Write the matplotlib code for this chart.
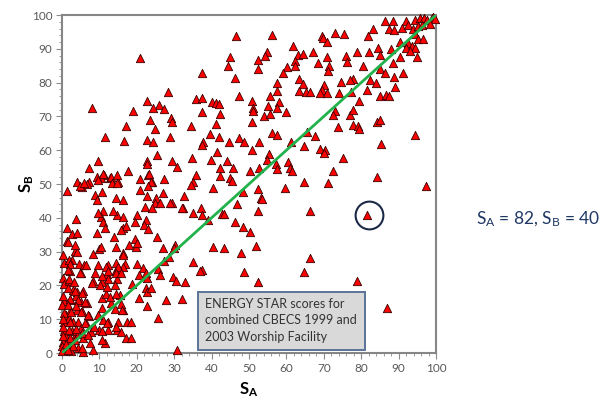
import matplotlib
matplotlib.use("Agg")
import matplotlib.pyplot as plt
from matplotlib.patches import Rectangle
from matplotlib.ticker import MultipleLocator

plt.rcParams['font.family'] = ['Lato', 'DejaVu Sans']
plt.rcParams['mathtext.fontset'] = 'custom'
plt.rcParams['mathtext.rm'] = 'Lato'
plt.rcParams['mathtext.bf'] = 'Lato:bold'

# scores: S_A on x, S_B on y
pts = [
    # upper left part
    (20.9,87.2),(8.1,72.4),(18.9,71.6),(22.8,74.6),(26.0,73.4),(28.4,77.1),(24.2,72.6),(27.4,72.2),
    (23.5,68.9),(17.1,67.2),(29.1,69.4),(29.4,68.2),(24.9,66.3),(11.6,63.8),(16.6,62.7),(22.6,63.0),
    (24.4,62.5),(28.9,63.8),(25.3,58.6),(9.7,56.8),(22.6,56.8),(22.7,55.8),(29.3,56.9),(30.7,55.1),
    (7.3,54.8),(17.6,53.7),(23.1,52.7),(11.1,52.7),(10.4,51.7),(12.8,51.9),(13.2,52.2),(20.9,51.5),
    (27.3,51.5),(3.9,50.7),(7.1,50.7),(15.1,50.7),(24.0,50.7),
    # upper middle
    (46.5,93.9),(56.1,94.1),(61.7,90.9),(44.9,87.7),(54.9,89.1),(54.3,87.9),(52.5,86.7),(63.0,88.2),
    (64.5,88.4),(62.4,86.4),(62.4,84.9),(44.5,85.0),(52.5,84.0),(60.2,84.5),(59.0,82.7),(37.4,82.9),
    (46.3,81.4),(57.6,79.8),(63.3,81.1),(64.5,79.5),(57.4,77.5),(63.5,77.5),(65.3,77.3),(55.6,76.1),
    (47.4,76.1),(35.8,75.1),(37.5,75.3),(50.7,74.6),(58.1,74.2),(40.0,74.2),(41.2,73.9),(42.1,73.6),
    (55.2,73.2),(57.6,72.6),(51.2,72.6),(37.3,71.4),(42.2,70.8),(51.2,71.6),(54.0,70.2),(55.6,70.8),
    (59.8,71.4),(50.7,68.4),(41.2,67.8),(34.4,67.2),(65.4,65.5),(39.6,64.7),(42.1,64.0),(47.4,63.7),
    (48.7,62.5),(52.8,62.5),(56.1,65.0),(57.6,64.5),(37.8,62.5),(37.5,61.5),(44.7,62.3),(61.1,62.3),
    (64.7,61.3),(50.7,60.1),(41.4,59.6),(55.4,58.8),(34.7,57.8),(39.8,57.1),(44.0,56.8),(54.7,57.1),
    (42.2,54.6),(45.8,54.6),(50.3,53.8),(52.8,54.6),(57.2,55.8),(57.6,54.4),(60.5,56.6),(61.0,54.6),
    (61.5,53.9),(35.8,52.8),(42.3,52.5),(44.9,51.7),(34.9,50.7),(45.4,50.8),(64.8,50.7),
    # upper right
    (86.4,98.2),(88.6,98.2),(92.0,98.2),(94.4,98.5),(95.7,99.0),(96.8,99.2),(97.5,98.5),(98.9,99.0),
    (99.3,99.5),(99.7,98.8),(87.3,96.0),(88.8,95.6),(90.8,96.2),(92.6,96.9),(93.9,95.9),(95.2,96.6),
    (96.3,97.1),(98.3,97.3),(83.2,95.9),(81.9,93.9),(73.0,94.8),(75.5,94.5),(69.4,93.9),(69.9,93.2),
    (70.8,91.9),(94.4,94.5),(95.1,93.0),(96.4,92.8),(90.4,92.1),(92.4,91.6),(93.6,90.9),(94.4,90.3),
    (87.9,89.9),(92.0,90.1),(93.1,89.3),(94.8,87.7),(90.4,87.7),(84.6,90.1),(84.9,88.2),(82.2,89.1),
    (79.0,89.1),(75.9,88.0),(76.3,86.0),(67.0,89.1),(70.9,87.7),(68.5,85.7),(71.3,85.0),(71.0,83.5),
    (80.6,85.0),(85.0,84.0),(88.4,85.7),(86.4,82.7),(88.9,81.7),(91.3,82.7),(77.9,81.1),(77.0,80.9),
    (74.5,80.3),(82.4,80.8),(84.0,79.9),(89.0,78.8),(70.1,79.3),(69.5,77.9),(70.8,77.0),(69.0,77.0),
    (66.3,77.1),(74.1,76.8),(77.4,77.1),(81.5,77.8),(85.0,76.1),(86.5,76.3),(87.4,76.1),(79.5,74.6),
    (73.0,71.6),(72.4,70.3),(77.0,70.4),(77.9,72.0),(84.1,68.2),(85.0,68.9),(73.9,67.0),(77.7,67.5),
    (79.2,67.3),(79.5,66.3),(94.4,64.5),(67.6,64.3),(69.0,60.5),(70.4,60.1),(70.1,59.2),(85.2,61.7),
    (75.0,57.8),(72.5,53.8),(84.1,52.2),(71.1,50.3),(97.3,49.3),
    # lower right
    (66.3,42.0),(81.5,40.8),(66.3,28.0),(64.7,24.1),(79.0,21.3),(87.0,13.4),
    # lower middle
    (34.5,49.8),(40.5,48.9),(52.5,48.5),(59.6,48.9),(32.6,46.5),(48.5,47.5),(53.1,45.9),(53.6,45.6),
    (29.3,44.5),(32.4,42.8),(37.1,43.0),(46.7,44.0),(34.9,41.3),(37.4,40.7),(39.1,39.3),(42.9,41.0),
    (43.4,41.0),(52.5,42.0),(46.3,38.9),(48.5,37.4),(50.4,35.9),(40.5,31.5),(43.2,31.1),(51.9,31.7),
    (47.8,29.5),(30.2,32.0),(34.9,26.8),(37.4,24.6),(36.9,24.3),(48.7,24.1),(29.6,22.6),(32.9,21.1),
    (52.5,20.9),(32.0,16.0),(30.8,0.9),(32.2,42.8),
    # lower left
    (1.4,47.9),(5.3,49.2),(6.8,49.9),(8.8,46.7),(9.3,45.2),(10.6,47.7),(14.4,45.9),(16.2,45.2),
    (20.9,48.2),(22.8,46.5),(25.1,45.9),(24.9,44.3),(26.3,44.5),(27.1,47.2),(28.9,44.3),(3.7,39.6),
    (1.4,37.1),(2.6,35.3),(4.1,35.6),(1.4,33.1),(11.0,42.0),(10.4,40.3),(10.9,38.8),(11.5,37.1),
    (9.4,35.4),(13.9,34.4),(14.8,40.8),(16.3,40.3),(16.4,36.9),(17.2,37.7),(20.0,40.8),(22.5,39.3),
    (21.9,38.0),(23.1,36.6),(25.3,34.4),(18.0,32.1),(19.9,31.4),(16.4,29.5),(0.2,29.0),(2.7,27.5),
    (1.5,26.8),(3.5,30.2),(8.2,29.2),(10.0,30.8),(4.6,26.4),(5.9,26.0),(2.2,24.4),(9.7,26.0),
    (5.0,23.6),(12.4,25.9),(14.4,24.6),(12.0,23.3),(16.8,26.2),(16.3,25.3),(15.5,24.4),(20.1,26.3),
    (21.7,25.2),(22.5,23.7),(20.5,23.0),(25.7,24.9),(27.4,27.2),(28.6,28.5),(30.0,31.2),(27.0,31.0),
    (26.1,23.0),(22.6,22.3),(18.6,20.3),(14.6,21.9),(12.4,21.9),(10.6,20.9),(8.2,21.3),(0.4,22.1),
    (0.5,20.4),(1.9,21.3),(3.0,18.6),(4.1,18.1),(3.7,16.9),(5.7,18.3),(2.1,15.6),(0.5,15.3),
    (5.0,15.2),(6.8,14.7),(10.6,16.2),(11.8,17.4),(15.5,17.2),(13.2,14.7),(16.4,12.7),(14.2,12.9),
    (20.7,16.2),(22.5,19.3),(22.8,17.9),(23.9,19.3),(27.8,15.7),(30.5,21.3),(22.8,13.9),(25.7,10.3),
    (17.5,9.3),(18.5,9.3),(14.8,6.8),(17.1,4.5),(18.5,4.5),(15.9,6.3),(12.4,6.9),(10.0,6.8),
    (7.7,6.3),(6.4,8.8),(7.3,10.8),(11.0,9.8),(12.4,9.3),(5.4,12.3),(4.0,12.7),(2.2,12.3),
    (1.0,11.3),(0.5,9.3),(2.0,10.3),(3.0,9.3),(4.3,9.3),(5.0,7.3),(3.7,5.6),(2.6,6.6),
    (0.5,6.4),(1.2,4.6),(0.3,3.4),(1.9,3.9),(2.7,2.6),(4.4,1.4),(1.5,1.2),(0.4,0.9),
    (2.5,0.6),(5.7,0.4),(8.4,0.9),(7.5,3.1),(5.6,4.3),(11.5,3.0),
    (1.7,32.9),(3.9,30.0),(10.4,31.3),(14.4,31.5),(0.6,26.7),(1.9,27.6),(2.1,26.2),(6.3,26.0),
    (11.7,25.5),(14.4,26.7),(14.9,25.5),(16.4,29.0),(4.8,23.8),(1.7,24.6),(1.9,21.8),(3.1,21.1),
    (8.8,23.6),(10.6,22.8),(12.2,24.3),(14.4,23.6),(15.9,23.6),(8.1,20.6),(10.1,20.1),(11.9,19.6),
    (14.1,20.1),(1.7,19.1),(3.5,18.4),(5.4,17.8),(0.4,17.0),(2.1,16.0),(4.3,15.8),(6.1,15.1),
    (0.0,14.2),(1.5,14.2),(3.7,13.9),(0.6,11.9),(2.5,12.2),(5.0,12.2),(7.0,11.2),(10.6,13.2),
    (12.8,16.5),(14.4,17.4),(15.9,14.6),(15.1,9.3),(11.9,8.8),(9.7,11.2),(0.3,10.0),(2.1,9.3),
    (6.1,8.8),(8.6,7.6),(0.2,7.7),(2.0,6.7),(3.7,7.1),(5.4,5.8),(7.0,5.4),(10.6,6.4),
    (14.4,7.7),(0.3,4.9),(2.1,4.4),(3.6,3.9),(0.1,2.1),(1.2,2.7),(3.0,2.1),(5.3,1.4),
    (0.0,0.5),(1.6,0.9),(10.6,3.9),(16.0,12.7),
    (9.3,52.2),(11.0,53.0),(14.6,52.7),(9.6,51.2),(13.3,50.3),(14.6,50.3),(23.3,53.0),(23.7,50.7),
    (4.9,49.4),(5.8,50.2),(22.9,49.5),(22.2,43.1),(24.0,42.8),(9.5,41.3),(13.7,42.1),(19.5,38.9),
    (15.8,36.3),(19.4,33.6),(20.1,32.5),(3.6,32.0),
]
sa = [p[0] for p in pts]
sb = [p[1] for p in pts]

line_x = [0, 100]
line_y = [0, 100]

hl_sa, hl_sb = 82, 40
box_lines = ["ENERGY STAR scores for", "combined CBECS 1999 and", "2003 Worship Facility"]

fig = plt.figure(figsize=(6.08, 4.0), dpi=100)
ax = fig.add_axes([62/608, 47/400, 374/608, 338/400])

ax.scatter(sa, sb, marker='^', s=36, facecolor='#ff0000', edgecolor='#3a0000',
           linewidths=0.6, zorder=3, clip_on=False)
ax.plot(line_x, line_y, color='#22b24c', lw=2, zorder=3.5)  # line sits on top of the marks
ax.plot(hl_sa, hl_sb + 0.8, 'o', ms=20, mfc='none', mec='#1b2a47', mew=1.5, zorder=4)

ax.set_xlim(0, 100)
ax.set_ylim(0, 100)
ax.xaxis.set_major_locator(MultipleLocator(10))
ax.yaxis.set_major_locator(MultipleLocator(10))
ax.xaxis.set_minor_locator(MultipleLocator(2))
ax.yaxis.set_minor_locator(MultipleLocator(2))
ax.tick_params(which='major', direction='out', length=4, color='#8c8c8c',
               labelsize=8.5, labelcolor='#595959', pad=3)
ax.tick_params(which='minor', direction='out', length=2.5, color='#8c8c8c')
for s in ax.spines.values():
    s.set_color('#868686')
    s.set_linewidth(1.5)

ax.set_xlabel(r'$\mathbf{S_A}$', fontsize=12, labelpad=5)
ax.set_ylabel(r'$\mathbf{S_B}$', fontsize=12)
ax.yaxis.set_label_coords(-0.07, 0.5)

# note box
ax.add_patch(Rectangle((36.4, 0.9), 44.6, 17.2, facecolor='#d9d9d9', edgecolor='#5a7398',
                       lw=1.4, zorder=5))
for i, t in enumerate(box_lines):
    ax.text(38.2, 14.6 - i * 4.95, t, fontsize=9, color='#333333', va='center', ha='left', zorder=6)

fig.text(476/608, 1 - 219/400, r'$\mathrm{S_A}$ = 82, $\mathrm{S_B}$ = 40', fontsize=12.5,
         color='#1f3864', va='center', ha='left')

fig.savefig('out.png', dpi=100, facecolor='white')
